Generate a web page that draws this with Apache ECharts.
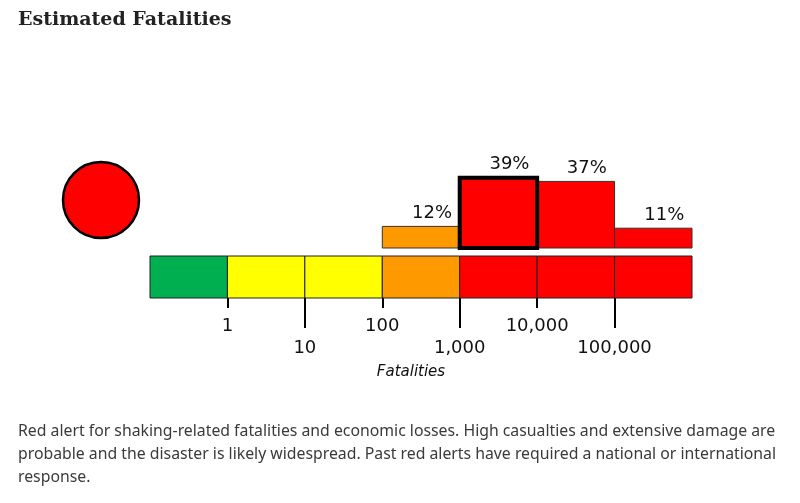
<!DOCTYPE html>
<html lang="en">
<head>
	<meta charset="UTF-8">
	<script src="https://cdn.jsdelivr.net/npm/echarts@6/dist/echarts.min.js"></script>
	<title>Estimated Fatalities</title>
	<style>
		html, body { margin: 0; padding: 0; background: #fff; }
		#chart { width: 800px; height: 503px; }
	</style>
</head>
<body>
	<div id="chart"></div>
	<script>
		// fatality bins: <1, 1-10, 10-100, 100-1k, 1k-10k, 10k-100k, >100k
		var binColors = ['#00b050', '#ffff00', '#ffff00', '#ff9900', '#ff0000', '#ff0000', '#ff0000']
		var probabilities = [0, 0, 0, 12, 39, 37, 11]   // percent
		var tickValues = [1, 2, 3, 4, 5, 6]
		var tickLabels = ['1', '10', '100', '1,000', '10,000', '100,000']
		var likelyBin = 4
		var alertText = [
			'Red alert for shaking-related fatalities and economic losses. High casualties and extensive damage are',
			'probable and the disaster is likely widespread. Past red alerts have required a national or international',
			'response.'
		]

		var chart = echarts.init(document.getElementById('chart'))

		var labelFont = '"DejaVu Sans", sans-serif'
		var upperTicks = tickValues.filter(function (v, i) { return i % 2 === 0 })
		var lowerTicks = tickValues.filter(function (v, i) { return i % 2 === 1 })
		function tickName(v) { return tickLabels[tickValues.indexOf(v)] }

		var histData = probabilities.map(function (p, i) { return [i, p] })
		var scaleData = binColors.map(function (c, i) { return [i, 1] })

		var option = {
			animation: false,
			grid: [
				{ left: 150, right: 108, top: 158, height: 90 },
				{ left: 150, right: 108, top: 256, height: 42 }
			],
			xAxis: [
				{ gridIndex: 0, type: 'value', min: 0, max: 7, show: false },
				{
					gridIndex: 1, type: 'value', min: 0, max: 7, position: 'bottom',
					axisLine: { show: false },
					splitLine: { show: false },
					axisTick: { show: true, customValues: upperTicks, length: 10, lineStyle: { color: '#000', width: 2 } },
					axisLabel: {
						customValues: upperTicks, margin: 19, color: '#111',
						fontFamily: labelFont, fontSize: 18,
						formatter: tickName
					},
					name: 'Fatalities', nameLocation: 'middle', nameGap: 67,
					nameTextStyle: { fontFamily: labelFont, fontStyle: 'italic', fontSize: 15, color: '#111', padding: [0, 20, 0, 0] }
				},
				{
					gridIndex: 1, type: 'value', min: 0, max: 7, position: 'bottom',
					axisLine: { show: false },
					splitLine: { show: false },
					axisTick: { show: true, customValues: lowerTicks, length: 30, lineStyle: { color: '#000', width: 2 } },
					axisLabel: {
						customValues: lowerTicks, margin: 41, color: '#111',
						fontFamily: labelFont, fontSize: 18,
						formatter: tickName
					}
				}
			],
			yAxis: [
				{ gridIndex: 0, type: 'value', min: 0, max: 50, show: false },
				{ gridIndex: 1, type: 'value', min: 0, max: 1, show: false }
			],
			series: [
				{
					type: 'custom',
					xAxisIndex: 0,
					yAxisIndex: 0,
					data: histData,
					renderItem: function (params, api) {
						var i = api.value(0), v = api.value(1)
						if (!v) return
						var p0 = api.coord([i, 0])
						var p1 = api.coord([i + 1, v])
						var hot = i === likelyBin
						return {
							type: 'group',
							children: [
								{
									type: 'rect',
									z2: hot ? 10 : 1,
									shape: { x: p0[0], y: p1[1], width: p1[0] - p0[0], height: p0[1] - p1[1] },
									style: { fill: binColors[i], stroke: hot ? '#000' : '#333', lineWidth: hot ? 4 : 1 }
								},
								{
									type: 'text',
									z2: 11,
									style: {
										x: (p0[0] + p1[0]) / 2 + 11, y: p1[1] - 13,
										text: v + '%', align: 'center', verticalAlign: 'middle',
										fontFamily: labelFont, fontSize: 18, fill: '#111'
									}
								}
							]
						}
					}
				},
				{
					type: 'custom',
					xAxisIndex: 1,
					yAxisIndex: 1,
					data: scaleData,
					renderItem: function (params, api) {
						var i = api.value(0)
						var p0 = api.coord([i, 0])
						var p1 = api.coord([i + 1, api.value(1)])
						return {
							type: 'rect',
							shape: { x: p0[0], y: p1[1], width: p1[0] - p0[0], height: p0[1] - p1[1] },
							style: { fill: binColors[i], stroke: '#222', lineWidth: 1 }
						}
					}
				}
			],
			graphic: [
				{
					type: 'text', left: 18, top: 11,
					style: { text: 'Estimated Fatalities', fontFamily: '"DejaVu Serif", serif', fontWeight: 'bold', fontSize: 19, fill: '#222' }
				},
				{
					type: 'circle', shape: { cx: 101, cy: 200, r: 38 },
					style: { fill: '#ff0000', stroke: '#000', lineWidth: 2.5 }
				}
			].concat(alertText.map(function (line, k) {
				return {
					type: 'text', left: 18, top: 423 + k * 23,
					style: { text: line, fontFamily: '"Noto Sans", sans-serif', fontSize: 15.8, fill: '#3a3a3a' }
				}
			}))
		}
		chart.setOption(option)
	</script>
</body>
</html>
